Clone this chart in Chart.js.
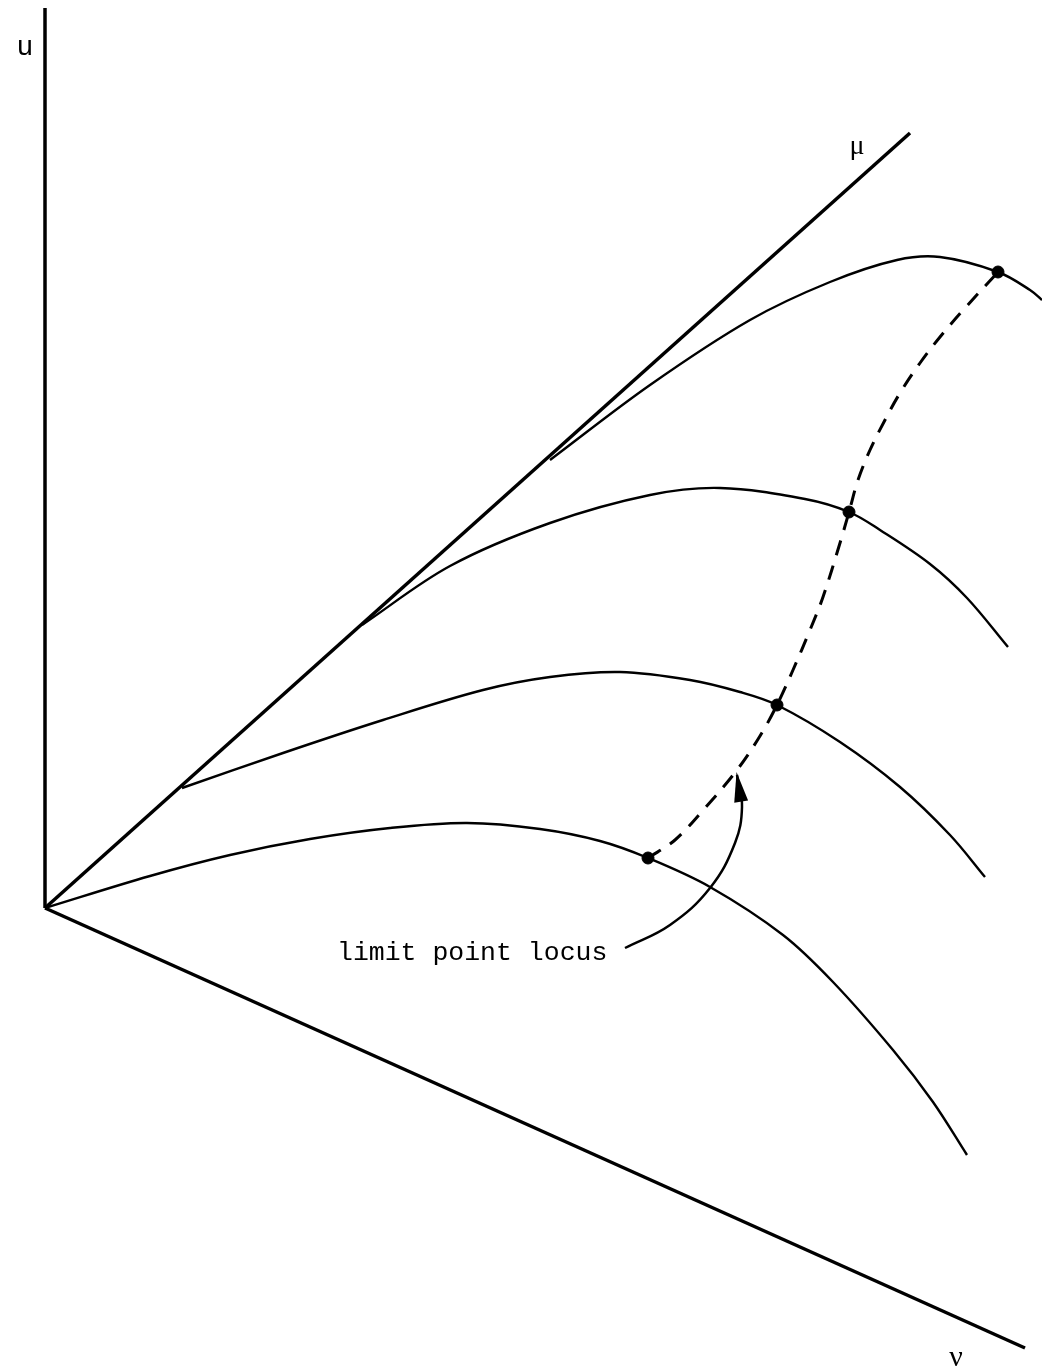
<!DOCTYPE html>
<html>
<head>
<meta charset="utf-8">
<title>limit point locus</title>
<script src="https://cdn.jsdelivr.net/npm/chart.js@4/dist/chart.umd.min.js"></script>
<style>
  html, body { margin: 0; padding: 0; background: #fff; overflow: hidden; }
  #wrap { width: 1042px; height: 1370px; position: relative; }
  #diagram { display: block; }
</style>
</head>
<body>
<div id="wrap"><canvas id="diagram"></canvas></div>
<script>
// axes of the (u, mu, nu) sketch, origin at the common vertex
const uAxis = [{ x: 0, y: 0 }, { x: 0, y: 900 }];
const muAxis = [{ x: 0, y: 0 }, { x: 865, y: 775 }];
const nuAxis = [{ x: 0, y: 0 }, { x: 980, y: -440 }];

// solution branches, each leaving the mu line
const branch1 = [
  { x: 0, y: 0 }, { x: 105, y: 32 }, { x: 185, y: 53 }, { x: 265, y: 69 },
  { x: 345, y: 80 }, { x: 422, y: 85 }, { x: 495, y: 79 }, { x: 555, y: 67 },
  { x: 603, y: 50 }, { x: 665, y: 21 }, { x: 738, y: -27 }, { x: 788, y: -74 },
  { x: 848, y: -142 }, { x: 888, y: -194 }, { x: 922, y: -247 }
];
const branch2 = [
  { x: 137, y: 120 }, { x: 238, y: 155 }, { x: 338, y: 188 }, { x: 438, y: 218 },
  { x: 505, y: 231 }, { x: 575, y: 236 }, { x: 645, y: 228 }, { x: 695, y: 216 },
  { x: 732, y: 203 }, { x: 795, y: 166 }, { x: 855, y: 121 }, { x: 905, y: 73 },
  { x: 940, y: 31 }
];
const branch3 = [
  { x: 317, y: 283 }, { x: 405, y: 342 }, { x: 505, y: 385 }, { x: 605, y: 413 },
  { x: 675, y: 420 }, { x: 760, y: 409 }, { x: 804, y: 396 }, { x: 835, y: 378 },
  { x: 885, y: 344 }, { x: 922, y: 310 }, { x: 963, y: 261 }
];
const branch4 = [
  { x: 505, y: 448 }, { x: 605, y: 523 }, { x: 705, y: 588 }, { x: 785, y: 626 },
  { x: 852, y: 648 }, { x: 895, y: 651 }, { x: 953, y: 636 }, { x: 985, y: 618 },
  { x: 997, y: 608 }
];

// limit points and the dashed locus through them
const limitPoints = [
  { x: 603, y: 50 }, { x: 732, y: 203 }, { x: 804, y: 396 }, { x: 953, y: 636 }
];
const locus = [
  { x: 603, y: 50 }, { x: 630, y: 68 }, { x: 660, y: 100 }, { x: 692, y: 138 },
  { x: 715, y: 172 }, { x: 732, y: 203 }, { x: 748, y: 238 }, { x: 765, y: 278 },
  { x: 778, y: 311 }, { x: 795, y: 365 }, { x: 804, y: 396 }, { x: 813, y: 428 },
  { x: 825, y: 458 }, { x: 840, y: 488 }, { x: 855, y: 515 }, { x: 875, y: 545 },
  { x: 895, y: 571 }, { x: 920, y: 600 }, { x: 953, y: 636 }
];

// pointer from the caption to the locus
const pointer = [
  { x: 580, y: -40 }, { x: 625, y: -17 }, { x: 665, y: 20 }, { x: 690, y: 65 },
  { x: 697, y: 101 }, { x: 692, y: 133 }
];

const captions = [
  { text: 'u', x: -20, y: 853, font: '28px "Liberation Mono"', align: 'center' },
  { text: 'μ', x: 812, y: 754, font: '28px "Liberation Serif"', align: 'center' },
  { text: 'ν', x: 911, y: -458, font: '30px "Liberation Serif"', align: 'center' },
  { text: 'limit point locus', x: 292, y: -52, font: '26.5px "Liberation Mono"', align: 'left' }
];

const textPlugin = {
  id: 'sketchText',
  afterDatasetsDraw(chart) {
    const { ctx, scales } = chart;
    const xs = scales.x, ys = scales.y;
    ctx.save();
    ctx.fillStyle = '#000';
    ctx.textBaseline = 'alphabetic';
    captions.forEach(c => {
      ctx.font = c.font;
      ctx.textAlign = c.align;
      ctx.fillText(c.text, xs.getPixelForValue(c.x), ys.getPixelForValue(c.y));
    });

    // arrowhead at the end of the pointer
    const a = pointer[pointer.length - 2];
    const b = pointer[pointer.length - 1];
    const ax = xs.getPixelForValue(a.x), ay = ys.getPixelForValue(a.y);
    const bx = xs.getPixelForValue(b.x), by = ys.getPixelForValue(b.y);
    const ang = Math.atan2(by - ay, bx - ax);
    const len = 30, half = 7;
    const tipX = bx + Math.cos(ang) * 3, tipY = by + Math.sin(ang) * 3;
    const baseX = tipX - Math.cos(ang) * len, baseY = tipY - Math.sin(ang) * len;
    ctx.beginPath();
    ctx.moveTo(tipX, tipY);
    ctx.lineTo(baseX + Math.sin(ang) * half, baseY - Math.cos(ang) * half);
    ctx.lineTo(baseX - Math.sin(ang) * half, baseY + Math.cos(ang) * half);
    ctx.closePath();
    ctx.fill();
    ctx.restore();
  }
};

function lineSet(data, width, extra) {
  return Object.assign({
    data: data,
    showLine: true,
    borderColor: '#000',
    backgroundColor: '#000',
    borderWidth: width,
    pointRadius: 0,
    pointHoverRadius: 0,
    tension: 0.35,
    fill: false
  }, extra || {});
}

new Chart(document.getElementById('diagram'), {
  type: 'scatter',
  data: {
    datasets: [
      lineSet(uAxis, 3.5, { tension: 0 }),
      lineSet(muAxis, 3.5, { tension: 0 }),
      lineSet(nuAxis, 3.5, { tension: 0 }),
      lineSet(branch1, 2.4),
      lineSet(branch2, 2.4),
      lineSet(branch3, 2.4),
      lineSet(branch4, 2.4),
      lineSet(locus, 3, { borderDash: [15, 11] }),
      lineSet(pointer, 2.5, { tension: 0.4 }),
      {
        data: limitPoints,
        showLine: false,
        pointRadius: 6,
        pointHoverRadius: 6,
        pointBackgroundColor: '#000',
        pointBorderColor: '#000'
      }
    ]
  },
  options: {
    responsive: true,
    maintainAspectRatio: false,
    animation: false,
    layout: { padding: 0, autoPadding: false },
    scales: {
      x: { type: 'linear', min: -45, max: 997, display: false },
      y: { type: 'linear', min: -462, max: 908, display: false }
    },
    plugins: {
      legend: { display: false },
      tooltip: { enabled: false }
    }
  },
  plugins: [textPlugin]
});
</script>
</body>
</html>
